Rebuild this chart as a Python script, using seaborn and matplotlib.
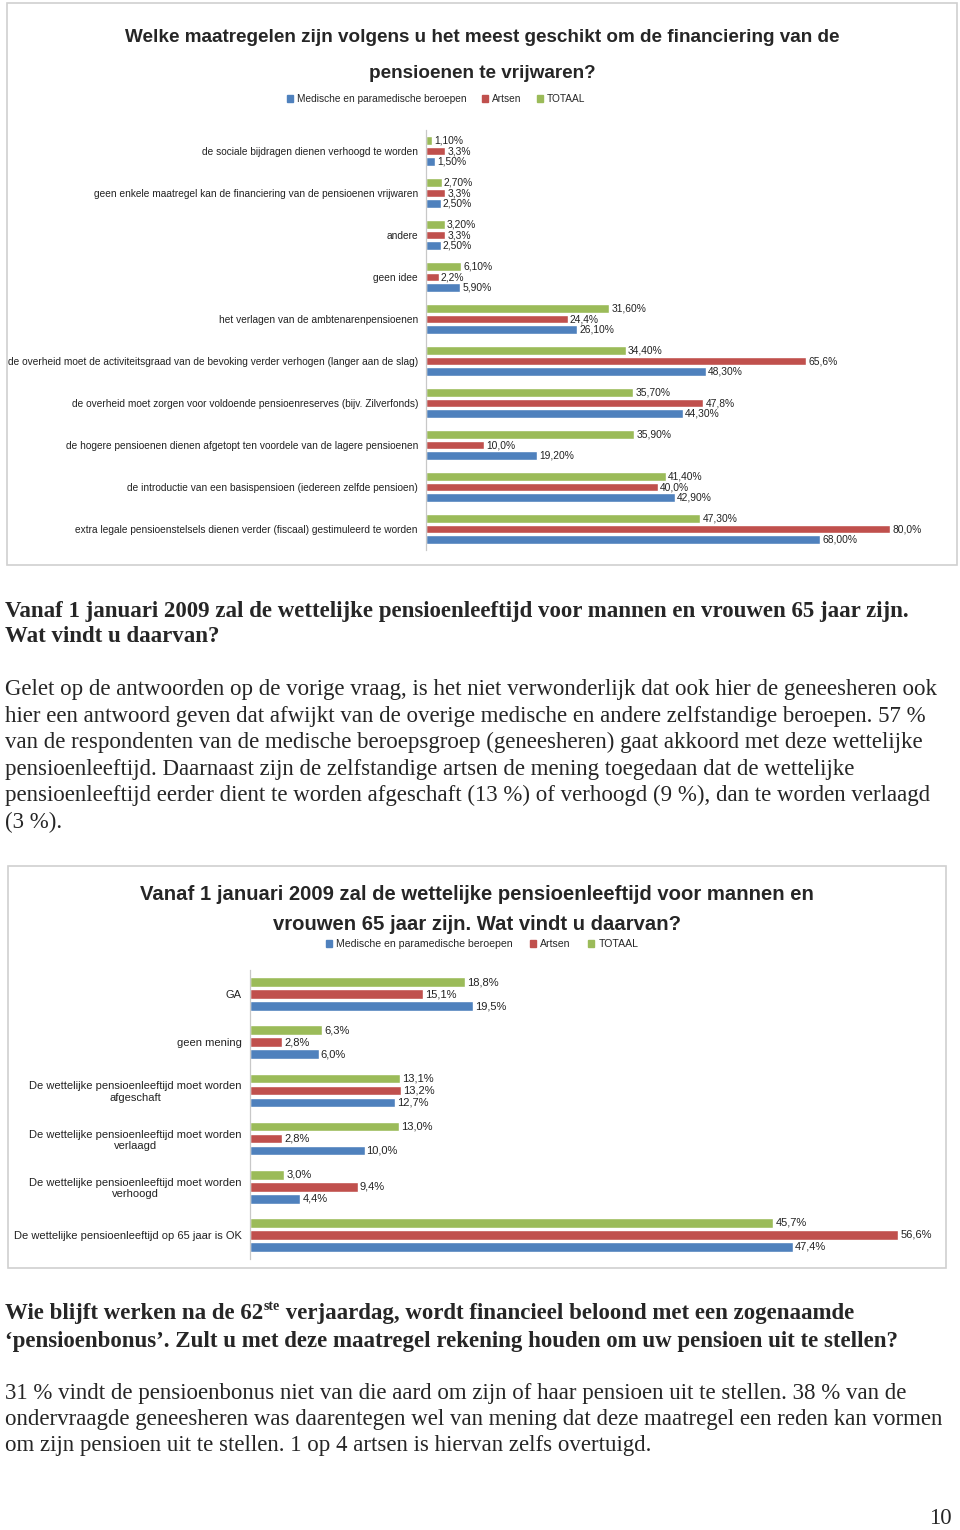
import matplotlib
matplotlib.use("Agg")
import matplotlib.pyplot as plt
import matplotlib.patches as mpatches
import pandas as pd
import seaborn as sns

# chart 1 data (top to bottom)
maatregelen = [
    "de sociale bijdragen dienen verhoogd te worden",
    "geen enkele maatregel kan de financiering van de pensioenen vrijwaren",
    "andere",
    "geen idee",
    "het verlagen van de ambtenarenpensioenen",
    "de overheid moet de activiteitsgraad van de bevoking verder verhogen (langer aan de slag)",
    "de overheid moet zorgen voor voldoende pensioenreserves (bijv. Zilverfonds)",
    "de hogere pensioenen dienen afgetopt ten voordele van de lagere pensioenen",
    "de introductie van een basispensioen (iedereen zelfde pensioen)",
    "extra legale pensioenstelsels dienen verder (fiscaal) gestimuleerd te worden",
]
totaal_1 = [1.10, 2.70, 3.20, 6.10, 31.60, 34.40, 35.70, 35.90, 41.40, 47.30]
artsen_1 = [3.3, 3.3, 3.3, 2.2, 24.4, 65.6, 47.8, 10.0, 40.0, 80.0]
medisch_1 = [1.50, 2.50, 2.50, 5.90, 26.10, 48.30, 44.30, 19.20, 42.90, 68.00]

# chart 2 data (top to bottom)
meningen = [
    "GA",
    "geen mening",
    "De wettelijke pensioenleeftijd moet worden\nafgeschaft",
    "De wettelijke pensioenleeftijd moet worden\nverlaagd",
    "De wettelijke pensioenleeftijd moet worden\nverhoogd",
    "De wettelijke pensioenleeftijd op 65 jaar is OK",
]
totaal_2 = [18.8, 6.3, 13.1, 13.0, 3.0, 45.7]
artsen_2 = [15.1, 2.8, 13.2, 2.8, 9.4, 56.6]
medisch_2 = [19.5, 6.0, 12.7, 10.0, 4.4, 47.4]

groepen = ["TOTAAL", "Artsen", "Medische en paramedische beroepen"]
kleuren = {"TOTAAL": "#9BBB59", "Artsen": "#C0504D",
           "Medische en paramedische beroepen": "#4F81BD"}

sns.set_theme(style="white")
SANS = ["Liberation Sans", "DejaVu Sans"]
SERIF = ["Liberation Serif", "DejaVu Serif"]
plt.rcParams["font.family"] = SANS

W, H = 960, 1530
fig = plt.figure(figsize=(W / 100, H / 100), dpi=100)
fig.patch.set_facecolor("white")


def fx(px):
    return px / W


def fy(py):
    return 1 - py / H


def long_df(cats, t, a, m):
    return pd.DataFrame({
        "categorie": cats * 3,
        "groep": ["TOTAAL"] * len(cats) + ["Artsen"] * len(cats)
                 + ["Medische en paramedische beroepen"] * len(cats),
        "waarde": t + a + m,
    })


def nl(v, d):
    return f"{v:.{d}f}".replace(".", ",") + "%"


def bars(ax, df, cats, xmax, lab_size, decimals):
    sns.barplot(data=df, y="categorie", x="waarde", hue="groep",
                order=cats, hue_order=groepen, palette=kleuren,
                orient="h", width=0.75, gap=0.2, saturation=1,
                errorbar=None, legend=False, ax=ax)
    ax.set_xlim(0, xmax)
    ax.set_ylim(len(cats) - 0.5, -0.5)
    ax.set_xlabel("")
    ax.set_ylabel("")
    ax.set_xticks([])
    for s in ["top", "right", "bottom"]:
        ax.spines[s].set_visible(False)
    ax.spines["left"].set_color("#C8C8C8")
    ax.spines["left"].set_linewidth(0.9)
    ax.tick_params(axis="y", length=0, pad=5.8)
    for cont, d in zip(ax.containers, decimals):
        ax.bar_label(cont, labels=[nl(b.get_width(), d) for b in cont],
                     padding=1.5, fontsize=lab_size, color="#222222")


def frame(x0, y0, x1, y1):
    fig.patches.append(mpatches.Rectangle(
        (fx(x0), fy(y1)), fx(x1 - x0), (y1 - y0) / H,
        transform=fig.transFigure, fill=False, edgecolor="#D0D0D0",
        linewidth=1.2))


def legend(cx, cy, size, colsp):
    handles = [mpatches.Patch(color=kleuren[g], label=g) for g in groepen[::-1]]
    fig.legend(handles=handles, loc="center", bbox_to_anchor=(fx(cx), fy(cy)),
               ncol=3, frameon=False, handlelength=0.6, handleheight=0.6,
               handletextpad=0.4, columnspacing=colsp,
               prop={"size": size})


# ---------------- chart 1 ----------------
frame(7, 3, 957, 565)
fig.text(fx(482), fy(38), "Welke maatregelen zijn volgens u het meest geschikt om de financiering van de",
         ha="center", va="center", fontsize=13.6, fontweight="bold")
fig.text(fx(482), fy(73), "pensioenen te vrijwaren?",
         ha="center", va="center", fontsize=13.6, fontweight="bold")
legend(436, 99, 7.3, 1.5)

ax1 = fig.add_axes([fx(426), fy(550), fx(522), 420 / H])
bars(ax1, long_df(maatregelen, totaal_1, artsen_1, medisch_1), maatregelen,
     90, 7.4, [2, 1, 2])
for lab in ax1.get_yticklabels():
    lab.set_fontsize(7.3)
    lab.set_color("#222222")

# ---------------- text block 1 ----------------
BODY = 16.5
head1 = [
    "Vanaf 1 januari 2009 zal de wettelijke pensioenleeftijd voor mannen en vrouwen 65 jaar zijn.",
    "Wat vindt u daarvan?",
]
for i, line in enumerate(head1):
    fig.text(fx(5), fy(611 + 25.5 * i), line, ha="left", va="center",
             fontsize=BODY, fontweight="bold", family=SERIF)

para1 = [
    "Gelet op de antwoorden op de vorige vraag, is het niet verwonderlijk dat ook hier de geneesheren ook",
    "hier een antwoord geven dat afwijkt van de overige medische en andere zelfstandige beroepen. 57 %",
    "van de respondenten van de medische beroepsgroep (geneesheren) gaat akkoord met deze wettelijke",
    "pensioenleeftijd. Daarnaast zijn de zelfstandige artsen de mening toegedaan dat de wettelijke",
    "pensioenleeftijd eerder dient te worden afgeschaft (13 %) of verhoogd (9 %), dan te worden verlaagd",
    "(3 %).",
]
for i, line in enumerate(para1):
    fig.text(fx(5), fy(690 + 26.4 * i), line, ha="left", va="center",
             fontsize=BODY, family=SERIF)

# ---------------- chart 2 ----------------
frame(8, 866, 946, 1268)
fig.text(fx(477), fy(894), "Vanaf 1 januari 2009 zal de wettelijke pensioenleeftijd voor mannen en",
         ha="center", va="center", fontsize=14.6, fontweight="bold")
fig.text(fx(477), fy(924), "vrouwen 65 jaar zijn. Wat vindt u daarvan?",
         ha="center", va="center", fontsize=14.6, fontweight="bold")
legend(482, 944, 7.6, 1.6)

ax2 = fig.add_axes([fx(250), fy(1259), fx(687), 289 / H])
bars(ax2, long_df(meningen, totaal_2, artsen_2, medisch_2), meningen,
     60, 8, [1, 1, 1])
for lab in ax2.get_yticklabels():
    lab.set_fontsize(8)
    lab.set_color("#222222")
    lab.set_multialignment("center")

# ---------------- text block 2 ----------------
fig.canvas.draw()
rend = fig.canvas.get_renderer()
y_h = fy(1314)
t1 = fig.text(fx(5), y_h, "Wie blijft werken na de 62", ha="left", va="center",
              fontsize=BODY, fontweight="bold", family=SERIF)
x_end = t1.get_window_extent(rend).x1 / W
t2 = fig.text(x_end, y_h + 7 / H, "ste", ha="left", va="center",
              fontsize=10, fontweight="bold", family=SERIF)
x_end = t2.get_window_extent(rend).x1 / W
fig.text(x_end, y_h, " verjaardag, wordt financieel beloond met een zogenaamde",
         ha="left", va="center", fontsize=BODY, fontweight="bold", family=SERIF)
fig.text(fx(5), fy(1341), "\u2018pensioenbonus\u2019. Zult u met deze maatregel rekening houden om uw pensioen uit te stellen?",
         ha="left", va="center", fontsize=BODY, fontweight="bold", family=SERIF)

para2 = [
    "31 % vindt de pensioenbonus niet van die aard om zijn of haar pensioen uit te stellen. 38 % van de",
    "ondervraagde geneesheren was daarentegen wel van mening dat deze maatregel een reden kan vormen",
    "om zijn pensioen uit te stellen. 1 op 4 artsen is hiervan zelfs overtuigd.",
]
for i, line in enumerate(para2):
    fig.text(fx(5), fy(1393 + 26.5 * i), line, ha="left", va="center",
             fontsize=BODY, family=SERIF)

fig.text(fx(952), fy(1519), "10", ha="right", va="center",
         fontsize=BODY, family=SERIF)

fig.savefig("out.png", dpi=100, facecolor="white")
